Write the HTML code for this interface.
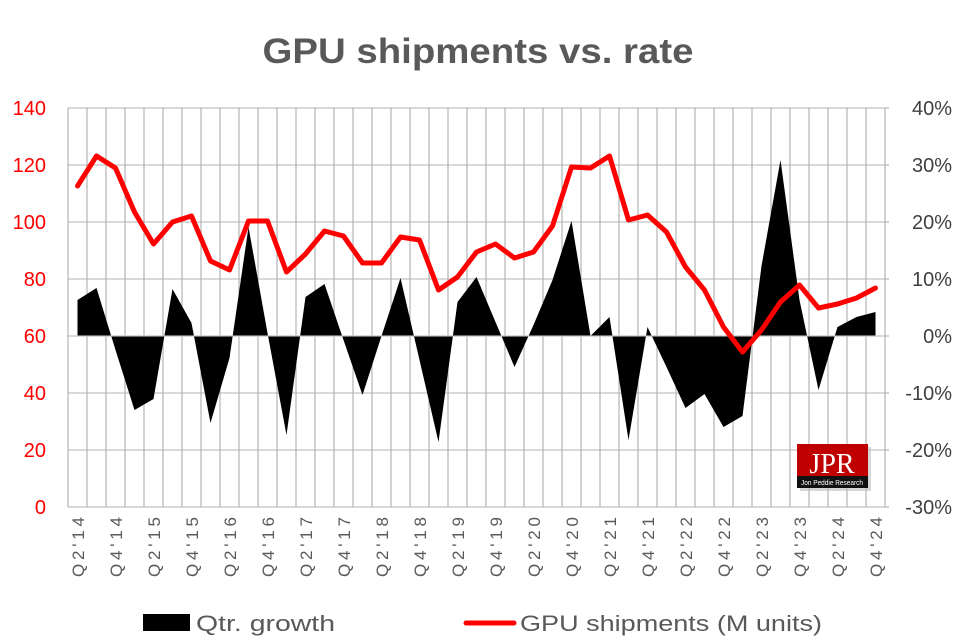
<!DOCTYPE html>
<html><head><meta charset="utf-8"><style>
body{margin:0;background:#fff}
svg{display:block}
text{font-family:"Liberation Sans",sans-serif}
</style></head><body>
<svg width="979" height="642" viewBox="0 0 979 642" xmlns="http://www.w3.org/2000/svg">
<rect width="979" height="642" fill="#fff"/>
<text x="478" y="63" text-anchor="middle" font-size="35" font-weight="bold" fill="#595959" textLength="431" lengthAdjust="spacingAndGlyphs">GPU shipments vs. rate</text>
<g stroke="#d9d9d9" stroke-width="2">
<line x1="68" y1="108" x2="885" y2="108"/><line x1="68" y1="165" x2="885" y2="165"/><line x1="68" y1="222" x2="885" y2="222"/><line x1="68" y1="279" x2="885" y2="279"/><line x1="68" y1="336" x2="885" y2="336"/><line x1="68" y1="393" x2="885" y2="393"/><line x1="68" y1="450" x2="885" y2="450"/><line x1="68" y1="507" x2="885" y2="507"/>
</g>
<g stroke="#a6a6a6" stroke-width="1">
<path d="M68 108V507M87 108V507M106 108V507M125 108V507M144 108V507M163 108V507M182 108V507M201 108V507M220 108V507M239 108V507M258 108V507M277 108V507M296 108V507M315 108V507M334 108V507M353 108V507M372 108V507M391 108V507M410 108V507M429 108V507M448 108V507M467 108V507M486 108V507M505 108V507M524 108V507M543 108V507M562 108V507M581 108V507M600 108V507M619 108V507M638 108V507M657 108V507M676 108V507M695 108V507M714 108V507M733 108V507M752 108V507M771 108V507M790 108V507M809 108V507M828 108V507M847 108V507M866 108V507M885 108V507"/>
<path d="M885 108h4M885 165h4M885 222h4M885 279h4M885 336h4M885 393h4M885 450h4M885 507h4"/>
</g>
<polygon fill="#000" points="77.5,336 77.5,300 96.5,288 115.5,350 134.5,410 153.5,399 172.5,289 191.5,323 210.5,423 229.5,358 248.5,227 267.5,333 286.5,435 305.5,297 324.5,284 343.5,340 362.5,395 381.5,336 400.5,278 419.5,360 438.5,442 457.5,302 476.5,277 495.5,322 514.5,367 533.5,325 552.5,280 571.5,221 590.5,336 609.5,317 628.5,440 647.5,327 666.5,367 685.5,408 704.5,394 723.5,427 742.5,416 761.5,266 780.5,160 799.5,300 818.5,390 837.5,327 856.5,317 875.5,312 875.5,336"/>
<line x1="77.5" y1="336" x2="875.5" y2="336" stroke="#d9d9d9" stroke-width="1"/>
<polyline fill="none" stroke="#ff0000" stroke-width="5" stroke-linejoin="round" stroke-linecap="round" points="77.5,186 96.5,156 115.5,168 134.5,212 153.5,244 172.5,222 191.5,216 210.5,261 229.5,270 248.5,221 267.5,221 286.5,272 305.5,254 324.5,231 343.5,236 362.5,263 381.5,263 400.5,237 419.5,240 438.5,290 457.5,277 476.5,252 495.5,244 514.5,258 533.5,252 552.5,226 571.5,167 590.5,168 609.5,156 628.5,220 647.5,215 666.5,232 685.5,267 704.5,290 723.5,327 742.5,352 761.5,330 780.5,302 799.5,285 818.5,308 837.5,304 856.5,298 875.5,288"/>
<g font-size="20" fill="#ff0000" text-anchor="end">
<text x="46" y="115">140</text><text x="46" y="172">120</text><text x="46" y="229">100</text><text x="46" y="286">80</text><text x="46" y="343">60</text><text x="46" y="400">40</text><text x="46" y="457">20</text><text x="46" y="514">0</text>
</g>
<g font-size="20" fill="#404040" text-anchor="end">
<text x="952" y="115">40%</text><text x="952" y="172">30%</text><text x="952" y="229">20%</text><text x="952" y="286">10%</text><text x="952" y="343">0%</text><text x="952" y="400">-10%</text><text x="952" y="457">-20%</text><text x="952" y="514">-30%</text>
</g>
<g font-size="17" fill="#595959" text-anchor="end">
<text transform="translate(84,517) rotate(-90)" textLength="60" lengthAdjust="spacing">Q2'14</text>
<text transform="translate(122,517) rotate(-90)" textLength="60" lengthAdjust="spacing">Q4'14</text>
<text transform="translate(160,517) rotate(-90)" textLength="60" lengthAdjust="spacing">Q2'15</text>
<text transform="translate(198,517) rotate(-90)" textLength="60" lengthAdjust="spacing">Q4'15</text>
<text transform="translate(236,517) rotate(-90)" textLength="60" lengthAdjust="spacing">Q2'16</text>
<text transform="translate(274,517) rotate(-90)" textLength="60" lengthAdjust="spacing">Q4'16</text>
<text transform="translate(312,517) rotate(-90)" textLength="60" lengthAdjust="spacing">Q2'17</text>
<text transform="translate(350,517) rotate(-90)" textLength="60" lengthAdjust="spacing">Q4'17</text>
<text transform="translate(388,517) rotate(-90)" textLength="60" lengthAdjust="spacing">Q2'18</text>
<text transform="translate(426,517) rotate(-90)" textLength="60" lengthAdjust="spacing">Q4'18</text>
<text transform="translate(464,517) rotate(-90)" textLength="60" lengthAdjust="spacing">Q2'19</text>
<text transform="translate(502,517) rotate(-90)" textLength="60" lengthAdjust="spacing">Q4'19</text>
<text transform="translate(540,517) rotate(-90)" textLength="60" lengthAdjust="spacing">Q2'20</text>
<text transform="translate(578,517) rotate(-90)" textLength="60" lengthAdjust="spacing">Q4'20</text>
<text transform="translate(616,517) rotate(-90)" textLength="60" lengthAdjust="spacing">Q2'21</text>
<text transform="translate(654,517) rotate(-90)" textLength="60" lengthAdjust="spacing">Q4'21</text>
<text transform="translate(692,517) rotate(-90)" textLength="60" lengthAdjust="spacing">Q2'22</text>
<text transform="translate(730,517) rotate(-90)" textLength="60" lengthAdjust="spacing">Q4'22</text>
<text transform="translate(768,517) rotate(-90)" textLength="60" lengthAdjust="spacing">Q2'23</text>
<text transform="translate(806,517) rotate(-90)" textLength="60" lengthAdjust="spacing">Q4'23</text>
<text transform="translate(844,517) rotate(-90)" textLength="60" lengthAdjust="spacing">Q2'24</text>
<text transform="translate(882,517) rotate(-90)" textLength="60" lengthAdjust="spacing">Q4'24</text>
</g>
<rect x="800" y="447" width="71" height="44" fill="#bbb" opacity="0.6"/>
<rect x="797" y="444" width="71" height="44" fill="#c00000"/>
<rect x="797" y="476" width="71" height="12" fill="#111"/>
<text x="832" y="473" text-anchor="middle" font-size="28" fill="#fff" style="font-family:'Liberation Serif',serif">JPR</text>
<text x="832" y="485" text-anchor="middle" font-size="7" fill="#fff" textLength="62" lengthAdjust="spacingAndGlyphs">Jon Peddie Research</text>
<rect x="143" y="614" width="47" height="17" fill="#000"/>
<text x="196" y="631" font-size="22" fill="#595959" textLength="139" lengthAdjust="spacingAndGlyphs">Qtr. growth</text>
<line x1="466" y1="623" x2="514" y2="623" stroke="#ff0000" stroke-width="5" stroke-linecap="round"/>
<text x="520" y="631" font-size="22" fill="#595959" textLength="302" lengthAdjust="spacingAndGlyphs">GPU shipments (M units)</text>
</svg>
</body></html>
